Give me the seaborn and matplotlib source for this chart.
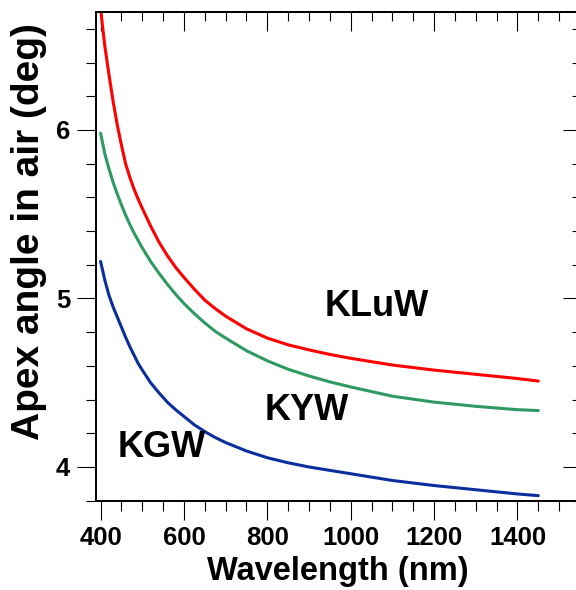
import numpy as np
import pandas as pd
import matplotlib
matplotlib.use("Agg")
import matplotlib.pyplot as plt
from matplotlib.ticker import MultipleLocator
import seaborn as sns

wavelength = [400, 410, 420, 430, 440, 450, 460, 470, 480, 490, 500, 520, 540,
              560, 580, 600, 625, 650, 675, 700, 750, 800, 850, 900, 950, 1000,
              1100, 1200, 1300, 1400, 1450]
kluw = [6.72, 6.50, 6.33, 6.17, 6.03, 5.91, 5.80, 5.72, 5.65, 5.59, 5.535, 5.43,
        5.335, 5.255, 5.185, 5.125, 5.055, 4.99, 4.94, 4.895, 4.82, 4.765, 4.725,
        4.695, 4.668, 4.645, 4.605, 4.575, 4.55, 4.525, 4.51]
kyw = [5.98, 5.86, 5.77, 5.69, 5.62, 5.555, 5.495, 5.44, 5.39, 5.345, 5.30, 5.22,
       5.15, 5.085, 5.025, 4.97, 4.91, 4.855, 4.805, 4.765, 4.69, 4.63, 4.58,
       4.54, 4.505, 4.475, 4.42, 4.385, 4.36, 4.34, 4.335]
kgw = [5.22, 5.11, 5.02, 4.95, 4.89, 4.83, 4.77, 4.715, 4.665, 4.615, 4.575, 4.50,
       4.44, 4.385, 4.34, 4.30, 4.25, 4.21, 4.175, 4.145, 4.095, 4.055, 4.025,
       4.00, 3.98, 3.96, 3.92, 3.89, 3.865, 3.84, 3.83]
series_names = ["KLuW", "KYW", "KGW"]
x_ticks = [400, 600, 800, 1000, 1200, 1400]
y_ticks = [4, 5, 6]

df = pd.DataFrame({
    "Wavelength": wavelength * 3,
    "Angle": kluw + kyw + kgw,
    "Crystal": [n for n in series_names for _ in wavelength],
})

sns.set_theme(style="ticks")
plt.rcParams["font.family"] = ["Liberation Sans", "DejaVu Sans"]
plt.rcParams["font.weight"] = "bold"
for k in ["text.color", "axes.labelcolor", "xtick.color", "ytick.color", "axes.edgecolor"]:
    plt.rcParams[k] = "black"

fig = plt.figure(figsize=(5.76, 5.90), dpi=100)
ax = fig.add_axes([96 / 576, 89.3 / 590, 484 / 576, 488.7 / 590])

palette = {"KLuW": "#ff0000", "KYW": "#2e9a62", "KGW": "#0a2f9c"}
sns.lineplot(data=df, x="Wavelength", y="Angle", hue="Crystal", palette=palette,
             linewidth=2.2, legend=False, ax=ax, sort=True)

ax.set_xlim(389, 1550)
ax.set_ylim(3.8, 6.7)
ax.set_xticks(x_ticks)
ax.set_yticks(y_ticks)
ax.xaxis.set_minor_locator(MultipleLocator(50))
ax.yaxis.set_minor_locator(MultipleLocator(0.2))

for s in ax.spines.values():
    s.set_linewidth(1.4)
    s.set_color("black")
    s.set_visible(True)

ax.tick_params(axis="both", which="major", direction="out", length=13.5, width=0.8,
               labelsize=18.5, pad=5, colors="black", top=False, right=False)
ax.tick_params(axis="both", which="minor", direction="out", length=7, width=0.8,
               colors="black", top=False, right=False)

# inward ticks on top and right
secx = ax.secondary_xaxis("top")
secx.set_xticks(x_ticks)
secx.xaxis.set_minor_locator(MultipleLocator(50))
secx.tick_params(axis="x", which="major", direction="in", length=13.5, width=0.8,
                 labeltop=False, colors="black")
secx.tick_params(axis="x", which="minor", direction="in", length=6.5, width=0.8,
                 colors="black")
secx.spines["top"].set_linewidth(1.4)

secy = ax.secondary_yaxis("right")
secy.set_yticks(y_ticks)
secy.yaxis.set_minor_locator(MultipleLocator(0.2))
secy.tick_params(axis="y", which="major", direction="in", length=12, width=0.8,
                 labelright=False, colors="black")
secy.tick_params(axis="y", which="minor", direction="in", length=6, width=0.8,
                 colors="black")

for lab in ax.get_xticklabels() + ax.get_yticklabels():
    lab.set_fontweight("bold")

ax.set_xlabel("Wavelength (nm)", fontsize=23.5, fontweight="bold", labelpad=4)
ax.set_ylabel("Apex angle in air (deg)", fontsize=28, fontweight="bold")
ax.yaxis.set_label_coords(-0.101, 0.55)

ax.text(1062, 4.95, "KLuW", fontsize=26, fontweight="bold", ha="center", va="center")
ax.text(894, 4.335, "KYW", fontsize=26, fontweight="bold", ha="center", va="center")
ax.text(547, 4.114, "KGW", fontsize=26, fontweight="bold", ha="center", va="center")

fig.savefig("out.png", dpi=100)
